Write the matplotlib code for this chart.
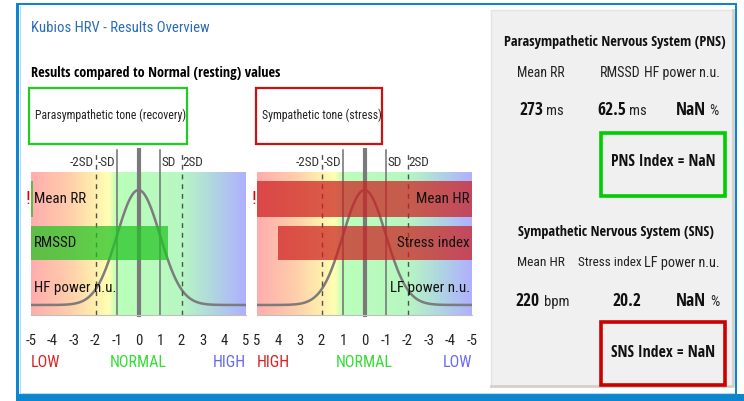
import numpy as np
import matplotlib
matplotlib.use("Agg")
import matplotlib.pyplot as plt
from matplotlib import font_manager as fm
from matplotlib.colors import LinearSegmentedColormap
from matplotlib.patches import Rectangle

# ---------------------------------------------------------------- data
ticks = [-5, -4, -3, -2, -1, 0, 1, 2, 3, 4, 5]
sd_marks = [-2, -1, 1, 2]
sd_labels = ["-2SD", "-SD", "SD", "2SD"]

pns_rows = ["Mean RR", "RMSSD", "HF power n.u."]
pns_scores = [-6.0, 1.37, np.nan]          # in SD units, <-5 is off-scale
sns_rows = ["Mean HR", "Stress index", "LF power n.u."]
sns_scores = [6.5, 4.0, np.nan]            # in SD units, >5 is off-scale

pns_values = ["273", "62.5", "NaN"]
pns_units = ["ms", "ms", "%"]
sns_values = ["220", "20.2", "NaN"]
sns_units = ["bpm", "", "%"]
pns_index = "NaN"
sns_index = "NaN"

# ---------------------------------------------------------------- fonts
def pick(*names):
    for n in names:
        try:
            fm.findfont(fm.FontProperties(family=n), fallback_to_default=False)
            return n
        except Exception:
            pass
    return "DejaVu Sans"

FONT = pick("Liberation Sans Narrow", "Roboto Condensed", "Liberation Sans")
BOLD = pick("Liberation Sans Narrow", "Open Sans Condensed", "Roboto Condensed")
plt.rcParams["font.family"] = [FONT, "DejaVu Sans"]
BKW = dict(family=[BOLD, "DejaVu Sans"], weight="bold")

W, H = 744, 401
fig = plt.figure(figsize=(W / 100, H / 100), dpi=100)
fig.patch.set_facecolor("white")
renderer = fig.canvas.get_renderer()

# pixel-space canvas for frames and free text
cv = fig.add_axes([0, 0, 1, 1])
cv.set_xlim(0, W)
cv.set_ylim(H, 0)
cv.axis("off")


def fit(ax, x, y, s, width, **kw):
    """Place text and scale its font so it spans `width` pixels."""
    t = ax.text(x, y, s, fontsize=10, **kw)
    w = t.get_window_extent(renderer).width
    t.set_fontsize(10 * width / w)
    return t


def frame(x0, y0, x1, y1, color, lw, fill="none", z=1):
    cv.add_patch(Rectangle((x0, y0), x1 - x0, y1 - y0, facecolor=fill,
                           edgecolor=color, linewidth=lw, zorder=z))

# ---------------------------------------------------------------- outer frame
BLUE = "#0b86cf"
cv.add_patch(Rectangle((16, 3), 721, 2, color=BLUE, lw=0, zorder=1))
cv.add_patch(Rectangle((16, 3), 3, 394, color=BLUE, lw=0, zorder=1))
cv.add_patch(Rectangle((735, 3), 2, 394, color=BLUE, lw=0, zorder=1))
cv.add_patch(Rectangle((16, 394), 728, 7, color=BLUE, lw=0, zorder=1))
cv.plot([19.5, 19.5, 734], [6, 393, 393], color="#b8d8f0", lw=0.8, zorder=1)

# right info panel
cv.add_patch(Rectangle((491, 10), 243, 377, facecolor="#f0f0f0",
                       edgecolor="none", zorder=1))
cv.plot([491, 491, 733], [387, 10, 10], color="#e4e4e4", lw=1, zorder=2)
cv.plot([491, 733, 733], [386, 386, 10], color="#d4d0c8", lw=2, zorder=2)

# ---------------------------------------------------------------- headings
fit(cv, 31, 28, "Kubios HRV - Results Overview", 178, color="#2b6cb8",
    va="center", ha="left")
fit(cv, 31, 73, "Results compared to Normal (resting) values", 250,
    va="center", ha="left", **BKW)

frame(29, 88, 187, 144, "#22cc22", 1.6)
fit(cv, 35, 115, "Parasympathetic tone (recovery)", 150, va="center",
    ha="left", color="#222222")
frame(256, 88, 382, 144, "#cc1111", 1.6)
fit(cv, 262, 115, "Sympathetic tone (stress)", 118, va="center", ha="left",
    color="#222222")

# ---------------------------------------------------------------- charts
bg = LinearSegmentedColormap.from_list("zones", [
    (0.00, (1.00, 0.68, 0.68)),
    (0.18, (1.00, 0.81, 0.67)),
    (0.30, (1.00, 0.94, 0.68)),
    (0.36, (1.00, 1.00, 0.70)),
    (0.40, (0.73, 1.00, 0.73)),
    (0.70, (0.72, 0.97, 0.76)),
    (0.85, (0.69, 0.84, 0.88)),
    (1.00, (0.69, 0.69, 1.00)),
])
grad = np.linspace(0, 1, 400)[None, :]

Y_TOP, Y_BOT, PW = 172, 315, 215
ROW_Y = [0.811, 0.503, 0.19]
ROW_H = [0.252, 0.237, 0.24]
LINE_TOP = 1.154
xs = np.linspace(-5, 5, 400)
curve = 0.07 + 0.804 * np.exp(-0.5 * xs ** 2)


def chart(left_px, rows, scores, reverse, bar_color):
    ax = fig.add_axes([left_px / W, (H - Y_BOT) / H, PW / W,
                       (Y_BOT - Y_TOP) / H])
    lo, hi = (5, -5) if reverse else (-5, 5)
    ax.set_xlim(lo, hi)
    ax.set_ylim(0, 1)
    ax.imshow(grad, cmap=bg, extent=(lo, hi, 0, 1), aspect="auto",
              interpolation="bilinear", zorder=0)
    for s in ("top", "left", "right"):
        ax.spines[s].set_visible(False)
    ax.spines["bottom"].set_color("#c0c0c0")
    ax.set_yticks([])
    ax.set_xticks(ticks, [str(t) for t in ticks])
    ax.tick_params(axis="x", length=0, pad=13.5, labelsize=10.5,
                   labelcolor="#222222")

    ax.plot(xs, curve, color="#7c7c7c", lw=1.8, zorder=2)
    ax.plot([0, 0], [0, LINE_TOP], color="#7a7a7a", lw=3.0, zorder=2,
            clip_on=False)
    for m, lab in zip(sd_marks, sd_labels):
        mark = -m if reverse else m
        if abs(m) == 1:
            ax.plot([mark, mark], [0, LINE_TOP], color="#707070", lw=1.1,
                    zorder=2, clip_on=False)
        else:
            ax.plot([mark, mark], [0, LINE_TOP], color="#505050", lw=1.0,
                    ls=(0, (3.5, 3.5)), zorder=2, clip_on=False)
        # labels sit outside the SD lines, away from the centre
        screen_left = (mark > 0) == reverse
        off = 0.06
        if reverse:
            tx = mark + off if screen_left else mark - off
        else:
            tx = mark - off if screen_left else mark + off
        ax.text(tx, 1.063, lab, fontsize=9.5,
                ha="right" if screen_left else "left", va="center",
                color="#333333", clip_on=False)

    for i, (name, sc) in enumerate(zip(rows, scores)):
        yc, hh = ROW_Y[i], ROW_H[i]
        if not np.isnan(sc):
            end = float(np.clip(sc, -5, 5))
            width = end + 5
            if width <= 0:
                width = 0.07
            ax.add_patch(Rectangle((-5, yc - hh / 2), width, hh,
                                   facecolor=bar_color, alpha=0.72,
                                   edgecolor="none", zorder=3))
            if abs(sc) > 5:
                ex = 5.04 if reverse else -5.04
                ax.text(ex, yc, "!", color="#e00000", fontsize=14,
                        ha="right", va="center",
                        clip_on=False, zorder=4)
        if reverse:
            ax.text(-4.9, yc, name, ha="right", va="center",
                    fontsize=10.8, color="#111111", zorder=4)
        else:
            ax.text(-4.86, yc, name, ha="left", va="center",
                    fontsize=10.8, color="#111111", zorder=4)

    lab_y = -0.33
    fs = 11.5
    if reverse:
        ax.text(5, lab_y, "HIGH", color="#dd2222", ha="left", va="center",
                fontsize=fs, clip_on=False)
        ax.text(-5, lab_y, "LOW", color="#6a6aee", ha="right", va="center",
                fontsize=fs, clip_on=False)
    else:
        ax.text(-5, lab_y, "LOW", color="#dd2222", ha="left", va="center",
                fontsize=fs, clip_on=False)
        ax.text(5, lab_y, "HIGH", color="#6a6aee", ha="right", va="center",
                fontsize=fs, clip_on=False)
    ax.text(0, lab_y, "NORMAL", color="#33dd33", ha="center", va="center",
            fontsize=fs, clip_on=False)
    return ax


chart(31, pns_rows, pns_scores, False, "#22c322")
chart(257, sns_rows, sns_scores, True, "#cc2020")

# ---------------------------------------------------------------- info panel
fit(cv, 615, 42, "Parasympathetic Nervous System (PNS)", 222,
    ha="center", va="center", color="#111111", **BKW)
for (x, w), name in zip([(517, 48), (600, 41), (644, 76)], pns_rows):
    fit(cv, x, 73, name, w, ha="left", va="center", color="#222222")

for x, v, u in zip([543, 626, 706], pns_values, pns_units):
    cv.text(x, 115, v, fontsize=12.5, ha="right",
            va="baseline", color="#111111", **BKW)
    if u:
        cv.text(x + 3, 115, u, fontsize=10.5, ha="left", va="baseline",
                color="#222222")

frame(601, 133, 725, 196, "#00cc00", 2.6, z=3)
fit(cv, 663, 162, f"PNS Index = {pns_index}", 104,
    ha="center", va="center", color="#111111", **BKW)

fit(cv, 616, 232, "Sympathetic Nervous System (SNS)", 198,
    ha="center", va="center", color="#111111", **BKW)
for (x, w), name in zip([(517, 48), (578, 63), (644, 76)], sns_rows):
    fit(cv, x, 263, name, w, ha="left", va="center", color="#222222")

for x, v, u in zip([540, 641, 706], sns_values, sns_units):
    cv.text(x, 306, v, fontsize=12.5, ha="right",
            va="baseline", color="#111111", **BKW)
    if u:
        cv.text(x + 4, 306, u, fontsize=10.5, ha="left", va="baseline",
                color="#222222")

frame(601, 322, 725, 385, "#cc0000", 2.6, z=3)
fit(cv, 663, 353, f"SNS Index = {sns_index}", 104,
    ha="center", va="center", color="#111111", **BKW)

fig.savefig("out.png", dpi=100)
